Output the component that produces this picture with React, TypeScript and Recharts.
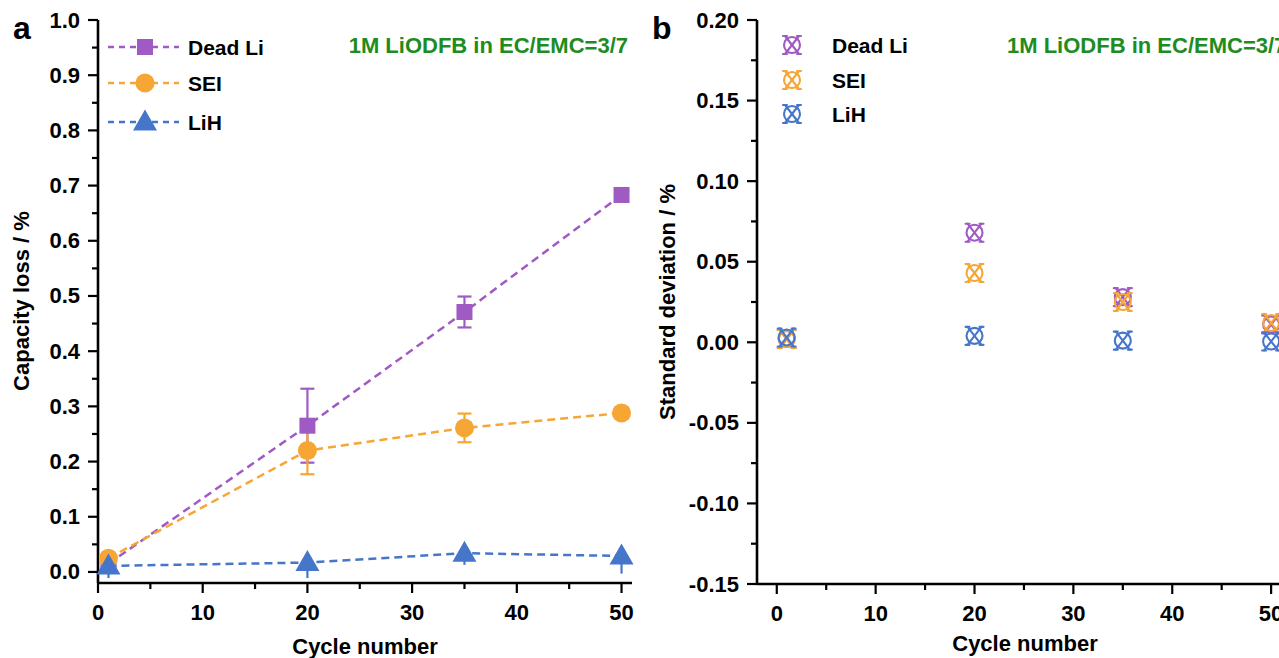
import React from 'react'
import {
  LineChart, Line, ScatterChart, Scatter, XAxis, YAxis, ErrorBar, Legend,
} from 'recharts'

const FONT = '"Liberation Sans", Arial, Helvetica, sans-serif'
const C = {
  deadLi: '#A05AC4', sei: '#F6A634', lih: '#4676C9', green: '#1E8C1E', axis: '#000',
} as const

// cycle numbers shared by both panels
const cycles = [1, 20, 35, 50]

// panel a: capacity loss (%)
const deadLiLoss = [0.015, 0.265, 0.471, 0.683]
const deadLiErr = [0.004, 0.067, 0.028, 0.005]
const seiLoss = [0.025, 0.22, 0.261, 0.288]
const seiErr = [0.004, 0.043, 0.026, 0.01]
const lihLoss = [0.011, 0.017, 0.034, 0.029]
const lihErrLow = [0.022, 0.028, 0.021, 0.032]
const lihErrHigh = [0.021, 0, 0, 0]

// panel b: standard deviation (%)
const deadLiStd = [0.002, 0.068, 0.028, 0.011]
const seiStd = [0.002, 0.043, 0.025, 0.012]
const lihStd = [0.003, 0.004, 0.001, 0.0005]

const xTicks = [0, 5, 10, 15, 20, 25, 30, 35, 40, 45, 50]
const lossTicks = [0, 0.05, 0.1, 0.15, 0.2, 0.25, 0.3, 0.35, 0.4, 0.45, 0.5, 0.55, 0.6, 0.65, 0.7, 0.75, 0.8, 0.85, 0.9, 0.95, 1.0]
const stdTicks = [-0.15, -0.125, -0.1, -0.075, -0.05, -0.025, 0, 0.025, 0.05, 0.075, 0.1, 0.125, 0.15, 0.175, 0.2]
const seriesNames = ['Dead Li', 'SEI', 'LiH']

const lossRows = cycles.map((c, i) => ({
  cycle: c,
  deadLi: deadLiLoss[i], deadLiErr: deadLiErr[i],
  sei: seiLoss[i], seiErr: seiErr[i],
  lih: lihLoss[i], lihErr: [lihErrLow[i], lihErrHigh[i]],
}))
const deadLiRows = cycles.map((c, i) => ({ cycle: c, std: deadLiStd[i] }))
const seiRows = cycles.map((c, i) => ({ cycle: c, std: seiStd[i] }))
const lihRows = cycles.map((c, i) => ({ cycle: c, std: lihStd[i] }))

const isMajor = (v: number, step: number) => Math.abs(v / step - Math.round(v / step)) < 1e-6

function YTick(props: any) {
  const { x, y, payload, step, digits } = props
  const v = payload.value
  const major = isMajor(v, step)
  return (
    <g>
      <line x1={x} x2={x - (major ? 10 : 6)} y1={y} y2={y} stroke={C.axis} strokeWidth={2.2} />
      {major && (
        <text x={x - 18} y={y} textAnchor="end" dominantBaseline="central"
          fontSize={22} fontWeight="bold" fontFamily={FONT} fill="#000">
          {v.toFixed(digits)}
        </text>
      )}
    </g>
  )
}

function XTick(props: any) {
  const { x, y, payload } = props
  const v = payload.value
  const major = isMajor(v, 10)
  return (
    <g>
      <line x1={x} x2={x} y1={y} y2={y + (major ? 10 : 6)} stroke={C.axis} strokeWidth={2.2} />
      {major && (
        <text x={x} y={y + 37} textAnchor="middle" fontSize={22} fontWeight="bold" fontFamily={FONT} fill="#000">
          {v}
        </text>
      )}
    </g>
  )
}

function Square({ cx, cy, color }: any) {
  return <rect x={cx - 8} y={cy - 8} width={16} height={16} fill={color} />
}
function Dot({ cx, cy, color }: any) {
  return <circle cx={cx} cy={cy} r={9.5} fill={color} />
}
function Tri({ cx, cy, color }: any) {
  return <polygon points={`${cx},${cy - 12.5} ${cx - 12},${cy + 8.5} ${cx + 12},${cy + 8.5}`} fill={color} />
}
function CrossCircle({ cx, cy, color }: any) {
  return (
    <g stroke={color} strokeWidth={2.1} fill="none" strokeLinecap="round">
      <circle cx={cx} cy={cy} r={8} />
      <line x1={cx - 7} y1={cy - 9} x2={cx + 7} y2={cy + 9} />
      <line x1={cx + 7} y1={cy - 9} x2={cx - 7} y2={cy + 9} />
      <line x1={cx - 9} y1={cy - 9} x2={cx - 5} y2={cy - 9} />
      <line x1={cx + 5} y1={cy - 9} x2={cx + 9} y2={cy - 9} />
      <line x1={cx - 9} y1={cy + 9} x2={cx - 5} y2={cy + 9} />
      <line x1={cx + 5} y1={cy + 9} x2={cx + 9} y2={cy + 9} />
    </g>
  )
}

const lossMarkers = [Square, Dot, Tri]
const seriesColors = [C.deadLi, C.sei, C.lih]

function LossLegend() {
  const rows = [19, 55, 94]
  return (
    <svg width={180} height={120} style={{ display: 'block' }}>
      {seriesNames.map((name, i) => {
        const M = lossMarkers[i]
        return (
          <g key={name}>
            <line x1={8} x2={79} y1={rows[i]} y2={rows[i]} stroke={seriesColors[i]} strokeWidth={2.4} strokeDasharray="6 5" />
            <M cx={45} cy={rows[i]} color={seriesColors[i]} />
            <text x={88} y={rows[i]} dominantBaseline="central" fontSize={21} fontWeight="bold" fontFamily={FONT}>{name}</text>
          </g>
        )
      })}
    </svg>
  )
}

function StdLegend() {
  const rows = [17, 52, 86]
  return (
    <svg width={160} height={110} style={{ display: 'block' }}>
      {seriesNames.map((name, i) => (
        <g key={name}>
          <CrossCircle cx={22} cy={rows[i]} color={seriesColors[i]} />
          <text x={62} y={rows[i]} dominantBaseline="central" fontSize={21} fontWeight="bold" fontFamily={FONT}>{name}</text>
        </g>
      ))}
    </svg>
  )
}

const frame = { stroke: C.axis, strokeWidth: 2.6 }

const txt: React.CSSProperties = {
  position: 'absolute', fontFamily: FONT, fontWeight: 'bold', whiteSpace: 'nowrap', color: '#000',
}

export default function App() {
  return (
    <div style={{ position: 'fixed', left: 0, top: 0, width: 1279, height: 658, overflow: 'hidden', background: '#fff' }}>
      <div style={{ position: 'absolute', left: 0, top: 0 }}>
        <LineChart width={640} height={658} data={lossRows} margin={{ top: 20, right: 8, left: 8, bottom: 25 }}>
          <XAxis dataKey="cycle" type="number" domain={[0, 51]} ticks={xTicks} interval={0}
            axisLine={frame} tickLine={false} tickSize={0} tickMargin={0} height={50} tick={(p: any) => <XTick {...p} />} />
          <XAxis xAxisId="top" orientation="top" type="number" domain={[0, 51]} height={0}
            tick={false} tickLine={false} axisLine={frame} />
          <YAxis type="number" domain={[-0.02, 1.0]} ticks={lossTicks} interval={0} width={90}
            axisLine={frame} tickLine={false} tickSize={0} tickMargin={0}
            tick={(p: any) => <YTick {...p} step={0.1} digits={1} />} />
          <YAxis yAxisId="right" orientation="right" type="number" domain={[-0.02, 1.0]} width={0}
            tick={false} tickLine={false} axisLine={frame} />
          <Legend layout="horizontal" verticalAlign="middle" align="center"
            wrapperStyle={{ left: 100, top: 28, width: 180 }} content={() => <LossLegend />} />
          <Line dataKey="deadLi" name="Dead Li" stroke={C.deadLi} strokeWidth={2.5} strokeDasharray="8 5"
            isAnimationActive={false} activeDot={false}
            dot={(p: any) => <Square key={`d${p.index}`} cx={p.cx} cy={p.cy} color={C.deadLi} />}>
            <ErrorBar dataKey="deadLiErr" width={7} stroke={C.deadLi} strokeWidth={2.2} isAnimationActive={false} />
          </Line>
          <Line dataKey="sei" name="SEI" stroke={C.sei} strokeWidth={2.5} strokeDasharray="8 5"
            isAnimationActive={false} activeDot={false}
            dot={(p: any) => <Dot key={`s${p.index}`} cx={p.cx} cy={p.cy} color={C.sei} />}>
            <ErrorBar dataKey="seiErr" width={7} stroke={C.sei} strokeWidth={2.2} isAnimationActive={false} />
          </Line>
          <Line dataKey="lih" name="LiH" stroke={C.lih} strokeWidth={2.5} strokeDasharray="8 5"
            isAnimationActive={false} activeDot={false}
            dot={(p: any) => <Tri key={`l${p.index}`} cx={p.cx} cy={p.cy} color={C.lih} />}>
            <ErrorBar dataKey="lihErr" width={0} stroke={C.lih} strokeWidth={2.2} isAnimationActive={false} />
          </Line>
        </LineChart>
      </div>

      <div style={{ position: 'absolute', left: 640, top: 0 }}>
        <ScatterChart width={649} height={658} margin={{ top: 20, right: 8, left: 17, bottom: 24 }}>
          <XAxis dataKey="cycle" type="number" domain={[-2, 51]} ticks={xTicks} interval={0}
            axisLine={frame} tickLine={false} tickSize={0} tickMargin={0} height={50} tick={(p: any) => <XTick {...p} />} />
          <XAxis xAxisId="top" orientation="top" type="number" domain={[-2, 51]} height={0}
            tick={false} tickLine={false} axisLine={frame} />
          <YAxis type="number" domain={[-0.15, 0.2]} ticks={stdTicks} interval={0} width={100}
            axisLine={frame} tickLine={false} tickSize={0} tickMargin={0}
            tick={(p: any) => <YTick {...p} step={0.05} digits={2} />} />
          <YAxis yAxisId="right" orientation="right" type="number" domain={[-0.15, 0.2]} width={0}
            tick={false} tickLine={false} axisLine={frame} />
          <Legend layout="horizontal" verticalAlign="middle" align="center"
            wrapperStyle={{ left: 130, top: 28, width: 160 }} content={() => <StdLegend />} />
          <Scatter name="Dead Li" data={deadLiRows} dataKey="std" isAnimationActive={false}
            shape={(p: any) => <CrossCircle cx={p.cx} cy={p.cy} color={C.deadLi} />} />
          <Scatter name="SEI" data={seiRows} dataKey="std" isAnimationActive={false}
            shape={(p: any) => <CrossCircle cx={p.cx} cy={p.cy} color={C.sei} />} />
          <Scatter name="LiH" data={lihRows} dataKey="std" isAnimationActive={false}
            shape={(p: any) => <CrossCircle cx={p.cx} cy={p.cy} color={C.lih} />} />
        </ScatterChart>
      </div>

      <div style={{ ...txt, left: 13, top: 10, fontSize: 32 }}>a</div>
      <div style={{ ...txt, left: 652, top: 10, fontSize: 32 }}>b</div>

      <div style={{ ...txt, right: 1279 - 628, top: 46, fontSize: 22, color: C.green, transform: 'translateY(-50%)' }}>1M LiODFB in EC/EMC=3/7</div>
      <div style={{ ...txt, left: 1007, top: 46, fontSize: 22, color: C.green, transform: 'translateY(-50%)' }}>1M LiODFB in EC/EMC=3/7</div>

      <div style={{ ...txt, left: 22, top: 301, fontSize: 22, transform: 'translate(-50%, -50%) rotate(-90deg)' }}>Capacity loss / %</div>
      <div style={{ ...txt, left: 668, top: 302, fontSize: 22, transform: 'translate(-50%, -50%) rotate(-90deg)' }}>Standard deviation / %</div>
      <div style={{ ...txt, left: 365, top: 647, fontSize: 22, transform: 'translate(-50%, -50%)' }}>Cycle number</div>
      <div style={{ ...txt, left: 1025, top: 644, fontSize: 22, transform: 'translate(-50%, -50%)' }}>Cycle number</div>
    </div>
  )
}
